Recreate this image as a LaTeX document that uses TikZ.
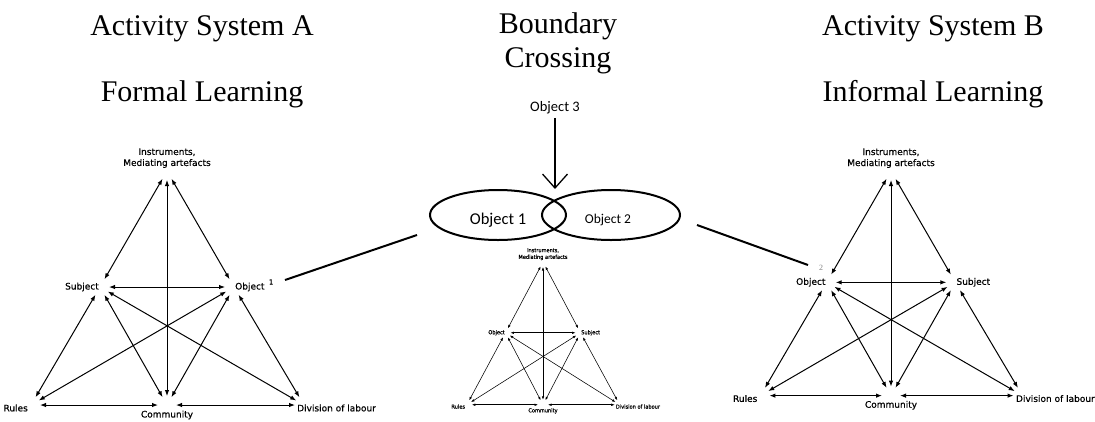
\documentclass[tikz,border=0pt]{standalone}
\usepackage{fontspec}
\setmainfont{Liberation Serif}
\newfontfamily\lblfont{DejaVu Sans}[FakeBold=0.6]
\newfontfamily\calfont{Carlito}
\usepackage{tikz}
\usetikzlibrary{arrows.meta, shapes.geometric, positioning}

\tikzset{
    >={Latex[length=6pt,width=4.5pt]},
    ttl/.style={font=\fontsize{30}{34}\selectfont, anchor=base},
    lbl/.style={font=\lblfont\fontsize{9}{11}\selectfont, inner sep=1pt},
    sup/.style={font=\lblfont\fontsize{7}{8}\selectfont, inner sep=0pt},
    tri/.style={<->, line width=1pt, shorten >=9pt, shorten <=9pt},
    oval/.style={ellipse, draw, line width=2pt, inner sep=0pt},
    objtxt/.style={font=\calfont\fontsize{14.5}{16}\selectfont},
    link/.style={line width=2pt},
    drop/.style={-{Straight Barb[length=14pt,width=25pt]}, line width=1.3pt}
}

% one activity triangle, hubs in local coordinates
\newcommand{\actsys}[3]{%
    \coordinate (#1-t) at (0,0);
    \coordinate (#1-l) at (-67,116);
    \coordinate (#1-r) at (67,116);
    \coordinate (#1-bl) at (-136,234);
    \coordinate (#1-bc) at (0,234);
    \coordinate (#1-br) at (137,234);
    \node[lbl, anchor=south, align=center] (#1-ins) at (0,-2) {Instruments,\\Mediating artefacts};
    \node[lbl, anchor=east] (#1-lt) at (#1-l) {#2};
    \node[lbl, anchor=west] (#1-rt) at (#1-r) {#3};
    \node[lbl, anchor=east] (#1-rul) at (-138,237) {Rules};
    \node[lbl] (#1-com) at (0,244) {Community};
    \node[lbl, anchor=west] (#1-div) at (129,237) {Division of labour};
    \foreach \a/\b in {t/l, t/bc, t/r, l/r, l/bl, l/bc, l/br, r/bl, r/bc, r/br, bl/bc, bc/br}
        \draw[tri] (#1-\a) -- (#1-\b);
}

\begin{document}
\begin{tikzpicture}[x=1pt, y=-1pt]
    \useasboundingbox (0,0) rectangle (1095,421);

    % Titles
    \node[ttl] (tA) at (202,35) {Activity System A};
    \node[ttl] (sA) at (202,101) {Formal Learning};
    \node[ttl] (tX) at (558,33) {Boundary};
    \node[ttl] (sX) at (558,67) {Crossing};
    \node[ttl] (tB) at (933,35) {Activity System B};
    \node[ttl] (sB) at (933,101) {Informal Learning};

    % Activity system A
    \begin{scope}[shift={(167,171)}]
        \actsys{A}{Subject}{Object}
    \end{scope}
    \node[sup, anchor=west] (A-one) at ([xshift=3pt,yshift=5pt]A-rt.east) {1};

    % Activity system B
    \begin{scope}[shift={(891,171)}, scale=0.96]
        \actsys{B}{Object}{Subject}
    \end{scope}
    \node[sup, font=\fontsize{8}{9}\selectfont, text=gray] (B-two) at (821,268) {2};

    % Boundary objects
    \node[oval, minimum width=136pt, minimum height=50pt] (o1) at (498,215) {};
    \node[oval, minimum width=138pt, minimum height=50pt] (o2) at (611,215) {};
    \node[objtxt, font=\calfont\fontsize{16.5}{18}\selectfont] (t1) at (498,220) {Object 1};
    \node[objtxt, font=\calfont\fontsize{13.5}{15}\selectfont] (t2) at (608,220) {Object 2};
    \node[objtxt] (o3) at (555,108) {Object 3};
    \draw[drop] (o3) -- (o3 |- o1.north);

    % Links to the two systems
    \coordinate (A-link) at (285,280);
    \coordinate (o1-link) at (417,235);
    \coordinate (o2-link) at (697,225);
    \coordinate (B-link) at (808,265);
    \draw[link] (A-link) -- (o1-link);
    \draw[link] (o2-link) -- (B-link);

    % Shared triangle
    \begin{scope}[shift={(543,262)}, xscale=0.56, yscale=0.61, transform shape,
            tri/.append style={line width=0.55pt, shorten >=5pt, shorten <=5pt},
            >={Latex[length=3.5pt,width=2.5pt]}]
        \actsys{C}{Object}{Subject}
    \end{scope}
\end{tikzpicture}
\end{document}
